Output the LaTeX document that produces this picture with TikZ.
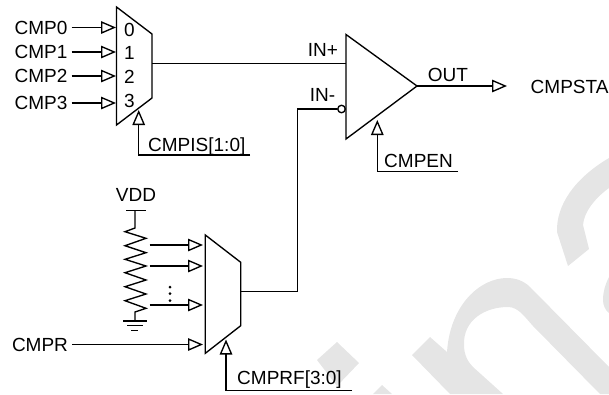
\documentclass[tikz,border=0pt]{standalone}
\usepackage{fontspec}
\setmainfont{Liberation Sans}
\usetikzlibrary{arrows.meta, positioning, calc}
\definecolor{wmgray}{RGB}{229,229,229}
\tikzset{
  sig/.style={line width=1.35pt},
  sigarrow/.style={sig, -{Triangle[open,length=15pt,width=12.5pt,line width=1.35pt]}},
  lbl/.style={font=\fontsize{19}{19}\selectfont, inner ysep=0pt, inner xsep=4pt, text height=13.5pt, text depth=0pt},
}
\begin{document}
\begin{tikzpicture}[x=1pt,y=-1pt]
  \useasboundingbox (0,0) rectangle (609,394);
  % watermark
  \fill[wmgray] (609,158) .. controls (575,178) and (556,205) .. (557,232) -- (568,266) -- (589,249) -- (583,225) .. controls (584,212) and (595,198) .. (609,188) -- cycle;
  \fill[wmgray] (412,355) -- (430,337) -- (447,352) .. controls (450,305) and (480,278) .. (507,278) .. controls (516,278) and (524,281) .. (530,287) -- (609,367) -- (609,394) -- (600,394) -- (533,326) .. controls (524,316) and (518,307) .. (508,307) .. controls (485,307) and (463,320) .. (464,345) .. controls (464,355) and (468,362) .. (473,367) -- (503,394) -- (450,394) -- cycle;
  \fill[wmgray] (317,360) -- (337,342) -- (359,363) -- (337,386) -- cycle;
  \fill[wmgray] (373,394) -- (382,385) -- (392,394) -- cycle;
  \fill[wmgray] (609,277) .. controls (605,285) and (603,292) .. (603,300) .. controls (603,305) and (605,310) .. (609,313) -- cycle;
  % input mux
  \coordinate (mux1out) at (152,63.5);
  \draw[sig, line join=miter] (116.5,7) -- (152,34) -- (152,98) -- (116.5,125) -- cycle;
  \foreach \n/\y/\d in {0/27.5/30, 1/52/53, 2/76/77, 3/103/100.5} {
    \node[lbl] (cmp\n) at (41,\y) {CMP\n};
    \coordinate (in\n) at (116,\y);
    \draw[sigarrow] (cmp\n) -- (in\n);
    \node[lbl, inner xsep=0pt] (sel\n) at (129.5,\d) {\n};
  }
  % comparator
  \draw[sig, line join=miter] (346,34.5) -- (417,86) -- (346,139) -- cycle;
  \coordinate (inplus) at (346,63.5);
  \coordinate (apex) at (417,86);
  \node[sig, draw, circle, fill=white, minimum size=7.5pt, inner sep=0pt] (bub) at (341.5,109) {};
  \draw[sig] (mux1out) -- (inplus);
  \node[lbl] (inp) at (323,50) {IN+};
  \node[lbl] (inm) at (322.5,95) {IN-};
  \node[lbl] (out) at (448,75) {OUT};
  \node[lbl, anchor=west, inner xsep=0pt] (cmpsta) at (530.5,87) {CMPSTA};
  \coordinate (outtip) at (507,86);
  \draw[sigarrow] (apex) -- (outtip);
  % selects
  \node[lbl, anchor=west, inner xsep=0pt] (cmpis) at (148,145) {CMPIS[1:0]};
  \coordinate (istip) at (138.7,110);
  \coordinate (iscorner) at (138.7,155);
  \coordinate (isend) at (250,155);
  \draw[sigarrow] (isend) -- (iscorner) -- (istip);
  \node[lbl, anchor=west, inner xsep=0pt] (cmpen) at (384,161) {CMPEN};
  \coordinate (entip) at (377.3,120);
  \coordinate (encorner) at (377.3,171.7);
  \coordinate (enend) at (458,171.7);
  \draw[sigarrow] (enend) -- (encorner) -- (entip);
  % reference ladder
  \node[lbl] (vdd) at (136,195) {VDD};
  \draw[sig] (126,210.7) -- (145.7,210.7);
  \draw[sig, line join=miter] (135,210.7) -- (135,228) -- (125,231.7) -- (146,238.3) -- (125,245.7) -- (146,252.7) -- (125,259.3) -- (146,266) -- (125,272.7) -- (146,280) -- (125,286.7) -- (146,294) -- (125,300.7) -- (146,308.3) -- (135,312) -- (135,321);
  \foreach \a/\b/\y in {123/147/321, 127/143/325.7, 131/138/330.7} {
    \draw[sig] (\a,\y) -- (\b,\y);
  }
  \foreach \y in {287, 293.5, 300.5} {
    \fill (170,\y) circle (1.5pt);
  }
  % reference mux
  \draw[sig, line join=miter] (205.3,235) -- (240.7,262.3) -- (240.7,325.7) -- (205.3,353.3) -- cycle;
  \foreach \i/\y in {a/245, b/266, c/305} {
    \coordinate (tap\i) at (149.5,\y);
    \coordinate (ref\i) at (203,\y);
    \draw[sigarrow] (tap\i) -- (ref\i);
  }
  \node[lbl] (cmpr) at (40,344.5) {CMPR};
  \coordinate (refd) at (203,344.5);
  \draw[sigarrow] (cmpr) -- (refd);
  \node[lbl, anchor=west, inner xsep=0pt] (cmprf) at (237,378) {CMPRF[3:0]};
  \coordinate (rftip) at (226,339.5);
  \coordinate (rfcorner) at (226,390.7);
  \coordinate (rfend) at (352,390.7);
  \draw[sigarrow] (rfend) -- (rfcorner) -- (rftip);
  % minus input route
  \coordinate (mux2out) at (240.7,291.7);
  \coordinate (bendlow) at (297.5,291.7);
  \coordinate (bendup) at (297.5,109);
  \draw[sig] (mux2out) -- (bendlow) -- (bendup) -- (bub);
\end{tikzpicture}
\end{document}
